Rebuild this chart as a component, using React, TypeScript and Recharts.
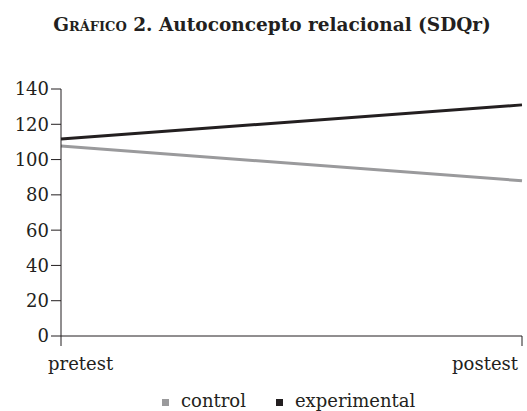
import { LineChart, Line, XAxis, YAxis } from "recharts";

const phases = ["pretest", "postest"];
const controlValues = [107.7, 88];
const experimentalValues = [111.7, 131];
const yTicks = [0, 20, 40, 60, 80, 100, 120, 140];

const series = [
  { key: "control", name: "control", color: "#9a9a9c" },
  { key: "experimental", name: "experimental", color: "#231f20" },
];

const data = phases.map((p, i) => ({
  phase: p,
  control: controlValues[i],
  experimental: experimentalValues[i],
}));

const FONT = "DejaVu Serif, serif";
const INK = "#231f20";

function XTick(props: any) {
  const { x, y, payload, index } = props;
  const first = index === 0;
  return (
    <text
      x={first ? x - 13 : x - 4}
      y={y + 22}
      textAnchor={first ? "start" : "end"}
      style={{ fontFamily: FONT, fontSize: 18 }}
      fill={INK}
    >
      {payload.value}
    </text>
  );
}

export default function App() {
  return (
    <div
      style={{
        position: "absolute",
        left: 0,
        top: 0,
        width: 527,
        height: 411,
        background: "#fff",
        overflow: "hidden",
      }}
    >
      <div
        style={{
          position: "absolute",
          left: 0,
          top: 14,
          width: 544,
          textAlign: "center",
          fontFamily: FONT,
          fontWeight: "bold",
          fontSize: 18.5,
          color: INK,
          lineHeight: "22px",
        }}
      >
        <span style={{ fontVariant: "small-caps" }}>Gráfico</span> 2. Autoconcepto relacional (SDQr)
      </div>
      <LineChart
        width={527}
        height={411}
        data={data}
        margin={{ top: 89, right: 5, bottom: 35, left: 0 }}
      >
        <XAxis
          dataKey="phase"
          height={40}
          padding={{ left: 0, right: 0 }}
          tickSize={10}
          stroke={INK}
          tickLine={{ stroke: INK }}
          tick={<XTick />}
          interval={0}
        />
        <YAxis
          width={61}
          domain={[0, 140]}
          ticks={yTicks}
          tickSize={10}
          tickMargin={2}
          stroke={INK}
          tick={{ fontFamily: FONT, fontSize: 18, fill: INK }}
          interval={0}
        />
        {series.map((s) => (
          <Line
            key={s.key}
            dataKey={s.key}
            name={s.name}
            stroke={s.color}
            strokeWidth={3}
            dot={false}
            isAnimationActive={false}
          />
        ))}
      </LineChart>
      <div
        style={{
          position: "absolute",
          left: 162,
          top: 390,
          display: "flex",
          alignItems: "center",
          fontFamily: FONT,
          fontSize: 18,
          color: INK,
          lineHeight: "22px",
        }}
      >
        {series.map((s, i) => (
          <div
            key={s.key}
            style={{ display: "flex", alignItems: "center", marginLeft: i === 0 ? 0 : 30 }}
          >
            <span
              style={{
                display: "inline-block",
                width: 7,
                height: 7,
                background: s.color,
                marginRight: 12,
                marginTop: 3,
              }}
            />
            <span>{s.name}</span>
          </div>
        ))}
      </div>
    </div>
  );
}
